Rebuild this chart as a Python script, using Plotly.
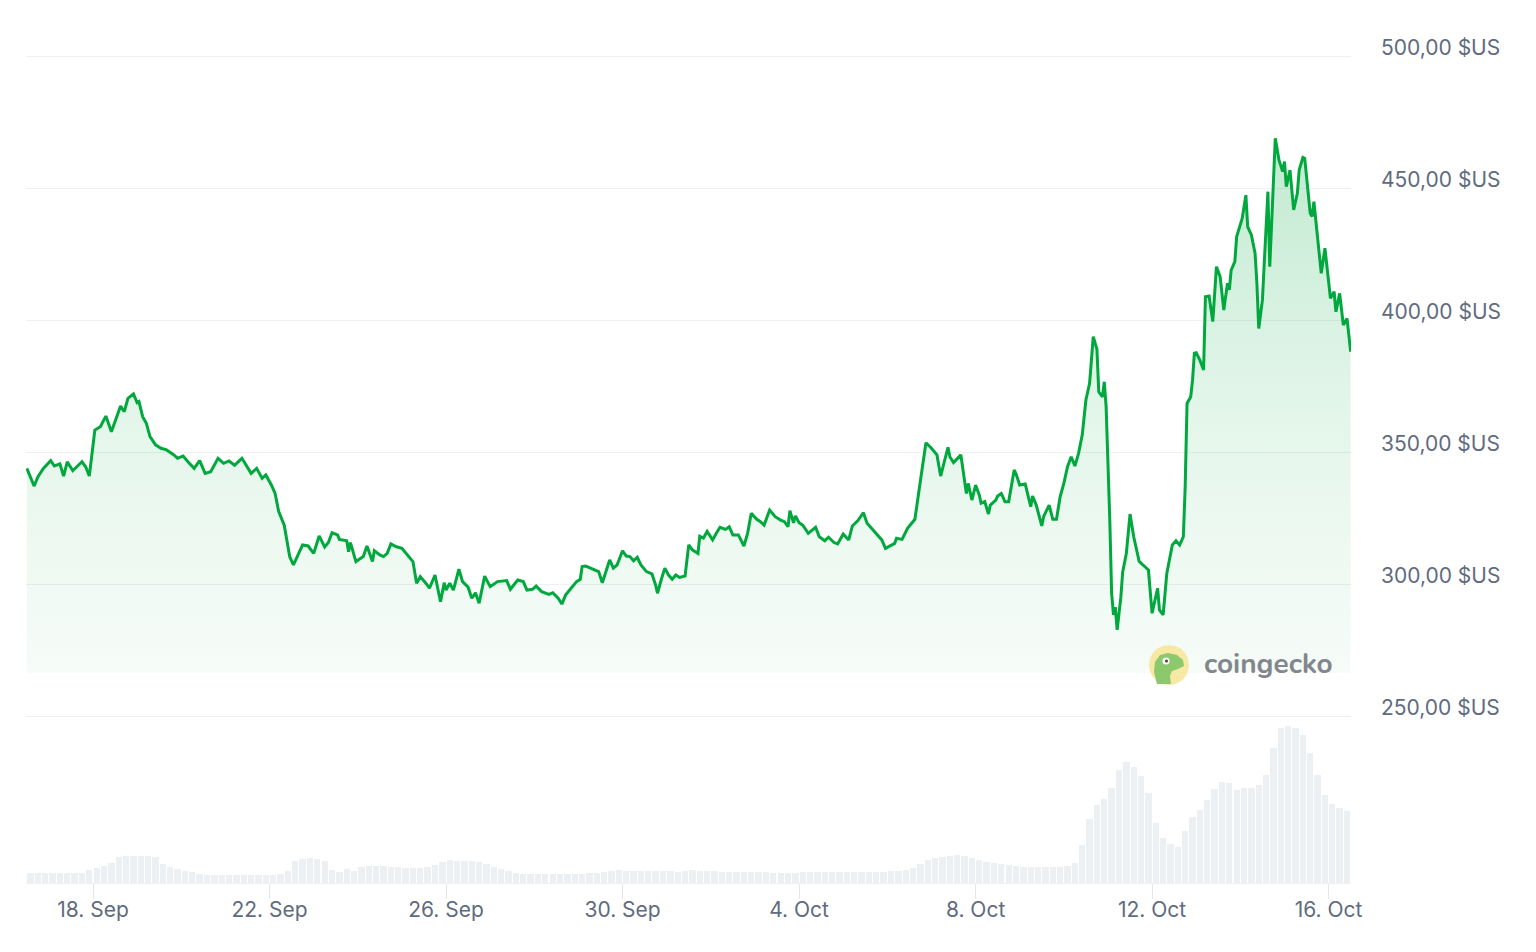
import pandas as pd
import plotly.graph_objects as go

# ---------------- data ----------------
start_time = "2025-09-16 12:00"

# hours since start_time, and price in USD
hours = [
    0, 4, 6, 9, 13, 15, 18, 20, 22, 25,
    30, 32, 34, 35, 37, 40, 43, 46, 51, 53,
    55, 58, 60, 61, 63, 65, 67, 70, 73, 76,
    80, 82, 85, 88, 91, 94, 97, 100, 104, 107,
    110, 113, 117, 122, 125, 128, 130, 133, 135, 137,
    139, 140, 143, 145, 150, 153, 156, 159, 162, 164,
    166, 169, 170, 174, 175, 176, 179, 183, 185, 188,
    189, 192, 194, 196, 198, 201, 204, 208, 210, 212,
    214, 217, 219, 222, 225, 227, 228, 230, 232, 235,
    237, 240, 242, 244, 246, 249, 252, 256, 261, 263,
    267, 270, 272, 275, 277, 280, 284, 286, 289, 291,
    293, 296, 299, 301, 302, 304, 308, 311, 313, 317,
    319, 321, 324, 326, 328, 330, 332, 334, 337, 340,
    342, 343, 345, 347, 349, 351, 353, 355, 358, 360,
    362, 365, 366, 368, 370, 373, 375, 377, 380, 382,
    384, 387, 390, 392, 394, 397, 399, 401, 404, 407,
    410, 412, 414, 415, 417, 418, 420, 422, 425, 429,
    431, 434, 436, 439, 441, 444, 447, 449, 452, 455,
    457, 460, 465, 467, 472, 473, 476, 479, 483, 485,
    487, 489, 492, 495, 497, 501, 502, 504, 508, 509,
    511, 512, 514, 516, 518, 519, 521, 523, 524, 527,
    528, 530, 532, 534, 537, 538, 540, 543, 546, 547,
    549, 552, 553, 556, 558, 560, 562, 564, 566, 568,
    570, 572, 574, 576, 578, 580, 582, 583, 585, 586,
    587, 589, 590, 591, 592, 593, 595, 596, 598, 600,
    602, 605, 609, 610, 612, 615, 616, 618, 620, 623,
    625, 627, 629, 630, 631, 633, 634, 635, 636, 638,
    640, 641, 643, 645, 647, 649, 651, 653, 654, 655,
    657, 658, 661, 663, 664, 666, 668, 669, 670, 672,
    673, 675, 676, 677, 679, 681, 683, 684, 685, 687,
    688, 689, 691, 692, 694, 695, 698, 699, 700, 703,
    704, 706, 708, 709, 711, 712, 714, 716, 718, 720,
]
price_usd = [
    343.8, 337.1, 340.6, 343.8, 346.7, 344.7, 345.5, 340.9, 346.3, 342.9,
    346.3, 344.4, 340.9, 347.6, 358.3, 359.6, 363.6, 357.7, 367.4, 365.3,
    370.3, 372.0, 368.7, 369.1, 363.4, 360.9, 355.8, 352.7, 351.4, 350.8,
    348.9, 347.6, 348.5, 346.0, 343.8, 346.7, 341.9, 342.5, 347.6, 345.7,
    346.6, 345.0, 347.6, 341.9, 343.8, 340.0, 341.3, 337.5, 334.4, 327.4,
    323.6, 322.3, 310.3, 307.2, 314.8, 314.4, 311.6, 318.2, 314.0, 315.7,
    319.4, 318.6, 316.9, 316.4, 312.2, 315.7, 308.5, 310.4, 314.4, 308.5,
    312.6, 311.0, 310.4, 311.6, 315.2, 314.1, 313.5, 310.4, 308.5, 300.3,
    302.8, 300.3, 298.4, 303.4, 293.3, 300.5, 297.7, 300.3, 297.7, 305.6,
    300.9, 298.8, 294.6, 296.7, 292.7, 303.0, 299.0, 300.9, 301.3, 298.0,
    301.5, 300.9, 297.7, 298.0, 299.2, 297.1, 296.1, 296.7, 294.6, 292.4,
    295.8, 298.4, 300.9, 301.8, 306.6, 306.8, 305.6, 304.7, 300.5, 309.1,
    306.0, 307.2, 312.6, 310.6, 310.4, 308.8, 310.1, 307.2, 304.7, 303.8,
    299.6, 296.5, 301.5, 306.0, 303.4, 301.8, 303.4, 302.5, 303.0, 314.8,
    312.9, 311.6, 318.1, 317.4, 319.9, 316.7, 319.2, 321.5, 320.7, 321.7,
    318.6, 318.6, 314.4, 319.2, 326.8, 324.5, 323.6, 322.3, 328.0, 325.5,
    324.2, 323.6, 321.7, 327.8, 323.2, 325.8, 323.2, 322.3, 319.2, 321.5,
    317.9, 316.4, 317.7, 315.7, 315.2, 318.9, 316.7, 322.0, 324.0, 327.0,
    323.0, 320.5, 316.7, 313.5, 315.4, 317.3, 316.9, 321.1, 324.5, 334.3,
    343.2, 353.5, 351.4, 348.9, 340.9, 351.8, 348.2, 346.0, 348.9, 344.4,
    334.3, 338.1, 331.8, 337.5, 333.7, 330.6, 331.2, 326.5, 329.9, 331.8,
    333.3, 334.3, 331.2, 331.2, 343.2, 341.7, 337.5, 337.9, 329.3, 333.3,
    329.9, 322.0, 325.5, 329.9, 324.5, 324.5, 333.1, 338.1, 344.4, 348.2,
    344.7, 349.5, 356.4, 369.7, 376.0, 393.7, 388.9, 372.8, 370.9, 376.6,
    367.2, 324.2, 296.5, 288.3, 291.2, 282.6, 295.0, 304.5, 311.6, 326.5,
    317.9, 308.5, 306.0, 305.3, 288.9, 298.4, 290.2, 288.3, 304.0, 314.8,
    316.4, 314.8, 317.9, 336.9, 368.4, 370.9, 377.3, 387.4, 387.6, 384.8,
    381.1, 408.8, 409.1, 399.4, 420.2, 416.4, 403.8, 413.9, 411.4, 418.9,
    422.1, 431.6, 438.5, 447.3, 435.3, 432.2, 425.3, 413.9, 396.8, 407.6,
    421.5, 448.6, 420.2, 437.9, 468.8, 460.6, 456.2, 460.0, 450.5, 456.8,
    450.5, 441.7, 448.0, 456.8, 461.6, 461.2, 440.4, 439.2, 444.8, 424.0,
    417.7, 427.2, 415.2, 408.2, 410.7, 403.1, 410.1, 398.1, 400.6, 388.0,
]

# trading volume per 4-hour bucket (relative units)
volume_bucket_hours = 4
volume = [
    10, 10, 10, 10, 10, 10, 10, 10, 13, 15,
    17, 20, 26, 27, 27, 27, 27, 26, 19, 16,
    14, 12, 11, 9, 8, 8, 8, 8, 8, 8,
    8, 8, 8, 8, 9, 12, 22, 24, 25, 24,
    22, 13, 11, 14, 12, 16, 17, 17, 17, 16,
    16, 15, 15, 15, 16, 18, 21, 23, 22, 22,
    22, 21, 19, 16, 14, 12, 10, 9, 9, 9,
    9, 9, 9, 9, 9, 9, 10, 10, 11, 12,
    13, 12, 12, 12, 12, 12, 12, 12, 11, 12,
    13, 12, 12, 12, 11, 11, 11, 11, 11, 11,
    11, 10, 10, 10, 10, 11, 11, 11, 11, 11,
    11, 11, 11, 11, 11, 11, 11, 12, 12, 13,
    15, 19, 23, 25, 26, 27, 28, 27, 25, 23,
    21, 20, 19, 18, 17, 16, 16, 16, 16, 16,
    16, 17, 20, 38, 64, 78, 84, 95, 113, 121,
    116, 107, 90, 60, 45, 39, 36, 52, 66, 73,
    83, 94, 101, 100, 93, 95, 95, 98, 108, 135,
    155, 157, 155, 148, 130, 108, 88, 79, 75, 72,
]

price_ticks = [250, 300, 350, 400, 450, 500]
price_tick_text = ["250,00 $US", "300,00 $US", "350,00 $US",
                   "400,00 $US", "450,00 $US", "500,00 $US"]
date_ticks = ["2025-09-18", "2025-09-22", "2025-09-26", "2025-09-30",
              "2025-10-04", "2025-10-08", "2025-10-12", "2025-10-16"]
date_tick_text = ["18. Sep", "22. Sep", "26. Sep", "30. Sep",
                  "4. Oct", "8. Oct", "12. Oct", "16. Oct"]
fill_floor = 266.3

# ---------------- build ----------------
t0 = pd.Timestamp(start_time)
times = [t0 + pd.Timedelta(hours=h) for h in hours]
vol_times = [t0 + pd.Timedelta(hours=volume_bucket_hours * i + volume_bucket_hours / 2)
             for i in range(len(volume))]
bar_width_ms = volume_bucket_hours * 3600 * 1000 * 0.86

LINE_GREEN = "#00a83e"
TEXT = "#5f6b7e"
GRID = "#eef0f3"
FONT = "Inter, Roboto, sans-serif"

fig = go.Figure()

fig.add_trace(go.Bar(
    x=vol_times, y=volume, yaxis="y2", width=bar_width_ms,
    marker=dict(color="#edf0f2", line=dict(width=0)),
    hoverinfo="skip", showlegend=False,
))

fig.add_trace(go.Scatter(
    x=times, y=[fill_floor] * len(times), mode="lines",
    line=dict(width=0, color="rgba(0,0,0,0)"),
    hoverinfo="skip", showlegend=False,
))
fig.add_trace(go.Scatter(
    x=times, y=price_usd, mode="lines",
    line=dict(color=LINE_GREEN, width=3),
    fill="tonexty",
    fillgradient=dict(
        type="vertical",
        start=fill_floor, stop=max(price_usd),
        colorscale=[[0, "rgba(0,168,62,0.035)"], [0.5, "rgba(0,168,62,0.11)"],
                    [1, "rgba(0,168,62,0.24)"]],
    ),
    showlegend=False,
))

# layout geometry
W, H = 1536, 952
ML, MR, MT, MB = 26, 185, 30, 69
plot_w = W - ML - MR
plot_h = H - MT - MB
px_per_usd = 2.64
y_top = 500 + (56 - MT) / px_per_usd
y_bot = y_top - plot_h / px_per_usd
px_per_hour = 1.8387
x_lo = t0 - pd.Timedelta(hours=0.44)
x_hi = x_lo + pd.Timedelta(hours=plot_w / px_per_hour)

fig.update_layout(
    width=W, height=H,
    margin=dict(l=ML, r=MR, t=MT, b=MB),
    paper_bgcolor="white", plot_bgcolor="white",
    font=dict(family=FONT, color=TEXT, size=21),
    bargap=0,
    xaxis=dict(
        type="date", range=[x_lo, x_hi],
        tickvals=date_ticks, ticktext=date_tick_text,
        ticks="outside", ticklen=15, tickcolor="#e3e6ea", tickwidth=1,
        ticklabelstandoff=-7,
        showgrid=False, showline=True, linecolor="#edf0f2", linewidth=1,
        zeroline=False, tickfont=dict(size=21, color=TEXT),
    ),
    yaxis=dict(
        side="right", range=[y_bot, y_top],
        tickvals=price_ticks, showticklabels=False,
        showgrid=True, gridcolor=GRID, gridwidth=1,
        zeroline=False, showline=False, ticks="",
    ),
    yaxis2=dict(
        overlaying="y", range=[0, plot_h], visible=False,
        showgrid=False, zeroline=False,
    ),
)

# price labels on the right, sitting just above their grid lines
for v, txt in zip(price_ticks, price_tick_text):
    fig.add_annotation(
        x=1, xref="paper", y=v, yref="y", xanchor="left", yanchor="middle",
        xshift=28, yshift=9, showarrow=False, text=txt,
        font=dict(family=FONT, size=21, color=TEXT),
    )

# ---------------- coingecko watermark ----------------
def px(x):
    return (x - ML) / plot_w

def py(y):
    return (H - MB - y) / plot_h

def circ(cx, cy, r, color):
    fig.add_shape(type="circle", xref="paper", yref="paper",
                  x0=px(cx - r), x1=px(cx + r), y0=py(cy + r), y1=py(cy - r),
                  fillcolor=color, line=dict(width=0), layer="above")

circ(1169, 665, 20, "#f8e8a6")
pts = [(1157, 684), (1154, 672), (1155, 662), (1160, 655), (1168, 653),
       (1177, 655), (1183, 660), (1184, 666), (1178, 669), (1172, 671),
       (1170, 676), (1171, 684)]
path = "M " + " L ".join(f"{px(a):.5f},{py(b):.5f}" for a, b in pts) + " Z"
fig.add_shape(type="path", xref="paper", yref="paper", path=path,
              fillcolor="#8cc86c", line=dict(width=0), layer="above")
circ(1166, 661, 3.6, "white")
circ(1166.5, 661, 1.6, "#4a4a4a")

fig.add_annotation(
    x=px(1202), y=py(664), xref="paper", yref="paper",
    xanchor="left", yanchor="middle", showarrow=False,
    text="<b>coingecko</b>",
    font=dict(family="Nunito, Inter, sans-serif", size=28, color="#83878d"),
)

fig.write_html("out.html")
